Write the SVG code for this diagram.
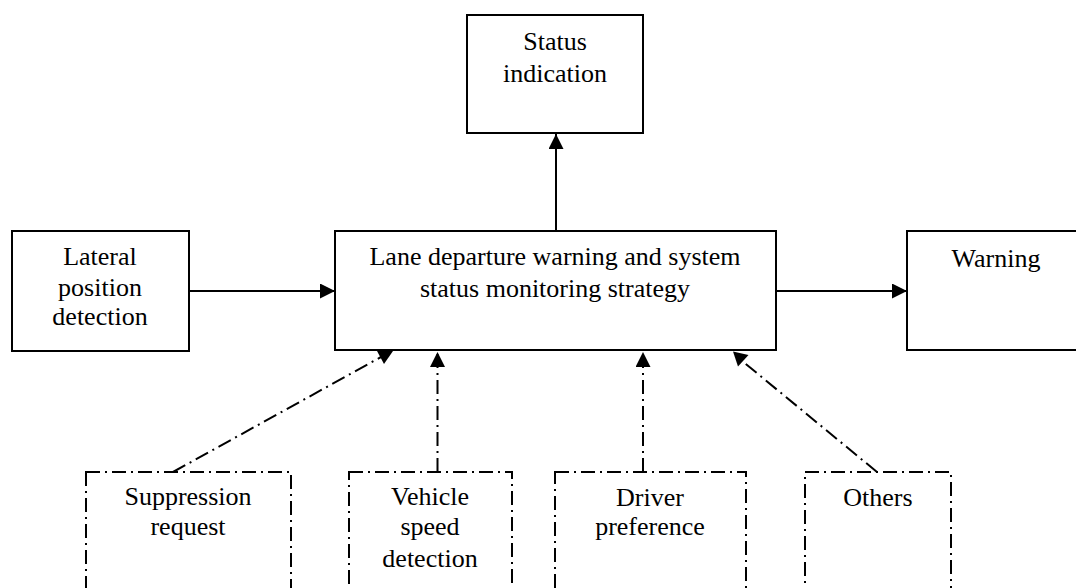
<svg xmlns="http://www.w3.org/2000/svg" width="1076" height="588" viewBox="0 0 1076 588">
<defs>
<style>
.box{fill:#fff;stroke:#000;stroke-width:2}
.dbox{fill:none;stroke:#000;stroke-width:2;stroke-dasharray:14 5 2 5}
.ln{fill:none;stroke:#000;stroke-width:2}
.dln{fill:none;stroke:#000;stroke-width:2;stroke-dasharray:14 5 2 5}
text{font-family:"Liberation Serif","Times New Roman",serif;font-size:26px;fill:#000;text-anchor:middle}
</style>
<marker id="ah" markerUnits="userSpaceOnUse" markerWidth="15" markerHeight="15" refX="15" refY="7.5" orient="auto">
<path d="M0,0 L15,7.5 L0,15 z" fill="#000"/>
</marker>
</defs>
<rect width="1076" height="588" fill="#fff"/>
<g id="status">
<rect class="box" x="467" y="15" width="176" height="118"/>
<text x="555" y="50">Status</text>
<text x="555" y="82">indication</text>
</g>
<g id="main">
<rect class="box" x="335" y="231" width="441" height="119"/>
<text x="555" y="265">Lane departure warning and system</text>
<text x="555" y="297">status monitoring strategy</text>
</g>
<g id="lateral">
<rect class="box" x="12" y="231" width="177" height="120"/>
<text x="100" y="265">Lateral</text>
<text x="100" y="296">position</text>
<text x="100" y="325">detection</text>
</g>
<g id="warning">
<rect class="box" x="907" y="231" width="180" height="119"/>
<text x="996" y="267">Warning</text>
</g>
<g id="suppression">
<rect class="dbox" x="86" y="472" width="205" height="140"/>
<text x="188" y="505">Suppression</text>
<text x="188" y="535">request</text>
</g>
<g id="vehicle">
<rect class="dbox" x="349" y="472" width="163" height="140"/>
<text x="430" y="505">Vehicle</text>
<text x="430" y="535">speed</text>
<text x="430" y="567">detection</text>
</g>
<g id="driver">
<rect class="dbox" x="555" y="472" width="191" height="140"/>
<text x="650" y="506">Driver</text>
<text x="650" y="535">preference</text>
</g>
<g id="others">
<rect class="dbox" x="805" y="472" width="146" height="140"/>
<text x="878" y="506">Others</text>
</g>
<g id="connectors">
<line class="ln" x1="556" y1="231" x2="556" y2="134" marker-end="url(#ah)"/>
<line class="ln" x1="189" y1="291" x2="335" y2="291" marker-end="url(#ah)"/>
<line class="ln" x1="776" y1="291" x2="907" y2="291" marker-end="url(#ah)"/>
<line class="dln" x1="173" y1="472" x2="381" y2="357"/>
<polygon points="377,351 393,351 384,364" fill="#000"/>
<line class="dln" x1="437.5" y1="472" x2="437.5" y2="352" marker-end="url(#ah)"/>
<line class="dln" x1="643" y1="472" x2="643" y2="352" marker-end="url(#ah)"/>
<line class="dln" x1="877" y1="472" x2="741" y2="360"/>
<polygon points="733,351.5 748.5,355 738,366.5" fill="#000"/>
</g>
</svg>
